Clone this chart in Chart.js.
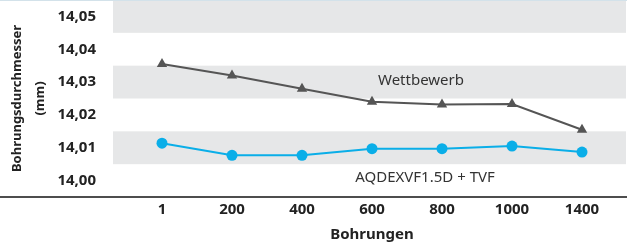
<!DOCTYPE html>
<html lang="de">
<head>
    <meta charset="UTF-8">
    <title>Bohrungsdurchmesser</title>
    <script src="https://cdn.jsdelivr.net/npm/chart.js"></script>
    <style>
        html, body { margin: 0; padding: 0; background: #ffffff; }
        #wrap { width: 627px; height: 243px; position: relative; }
    </style>
</head>
<body>
    <div id="wrap"><canvas id="chart"></canvas></div>
    <script>
        const bohrungen = ["1", "200", "400", "600", "800", "1000", "1400"];
        const wettbewerb = [14.0355, 14.032, 14.028, 14.024, 14.0232, 14.0233, 14.0155];
        const aqdex = [14.0114, 14.0077, 14.0077, 14.0097, 14.0097, 14.0105, 14.0087];
        const yTicks = [14.00, 14.01, 14.02, 14.03, 14.04, 14.05];
        const grauBaender = [14.01, 14.03, 14.05];

        const FONT = "'Noto Sans', sans-serif";

        // graue Streifen, Rahmenlinien und Beschriftungen der Linien
        const hintergrund = {
            id: "hintergrund",
            beforeDatasetsDraw(chart) {
                const ctx = chart.ctx;
                const y = chart.scales.y;
                const x = chart.scales.x;
                ctx.save();
                ctx.fillStyle = "#e6e7e8";
                grauBaender.forEach(function (v) {
                    const top = Math.max(y.getPixelForValue(v + 0.005), 1);
                    const bot = y.getPixelForValue(v - 0.005);
                    ctx.fillRect(113, top, chart.width - 114, bot - top);
                });
                ctx.fillStyle = "#d3e2ea";
                ctx.fillRect(0, 0, chart.width, 1);
                ctx.fillStyle = "#4d4d4d";
                ctx.fillRect(0, y.bottom - 1, chart.width, 2);

                ctx.fillStyle = "#333333";
                ctx.font = "15px " + FONT;
                ctx.textAlign = "center";
                ctx.textBaseline = "middle";
                const mitte = (x.getPixelForValue(3) + x.getPixelForValue(4)) / 2;
                ctx.fillText("Wettbewerb", mitte + 14, y.getPixelForValue(14.0303));
                ctx.fillText("AQDEXVF1.5D + TVF", mitte + 18, y.getPixelForValue(14.0008));
                ctx.restore();
            }
        };

        new Chart(document.getElementById("chart"), {
            type: "line",
            data: {
                labels: bohrungen,
                datasets: [
                    {
                        label: "Wettbewerb",
                        data: wettbewerb,
                        borderColor: "#555555",
                        backgroundColor: "#555555",
                        borderWidth: 2,
                        pointStyle: "triangle",
                        pointRadius: 6,
                        pointBorderWidth: 0,
                        tension: 0
                    },
                    {
                        label: "AQDEXVF1.5D + TVF",
                        data: aqdex,
                        borderColor: "#0aaee8",
                        backgroundColor: "#0aaee8",
                        borderWidth: 2,
                        pointStyle: "circle",
                        pointRadius: 5.5,
                        pointBorderWidth: 0,
                        tension: 0
                    }
                ]
            },
            options: {
                responsive: true,
                maintainAspectRatio: false,
                animation: false,
                layout: { autoPadding: false, padding: { left: 0, right: 10, top: 0, bottom: 0 } },
                plugins: { legend: { display: false }, tooltip: { enabled: false } },
                scales: {
                    x: {
                        offset: true,
                        grid: { display: false, drawTicks: false },
                        border: { display: false },
                        ticks: { color: "#222222", padding: 4, font: { family: FONT, size: 15, weight: "bold" } },
                        title: {
                            display: true,
                            text: "Bohrungen",
                            color: "#222222",
                            padding: { top: 0, bottom: -1 },
                            font: { family: FONT, size: 15, weight: "bold", lineHeight: 1.2 }
                        },
                        afterFit(scale) { scale.height = 46; scale.paddingLeft = 0; scale.paddingRight = 0; }
                    },
                    y: {
                        min: 13.995,
                        max: 14.055,
                        grid: { display: false, drawTicks: false },
                        border: { display: false },
                        afterBuildTicks(scale) { scale.ticks = yTicks.map(function (v) { return { value: v }; }); },
                        ticks: {
                            color: "#222222",
                            padding: 31,
                            font: { family: FONT, size: 15, weight: "bold" },
                            callback: function (v) { return v.toFixed(2).replace(".", ","); }
                        },
                        title: {
                            display: true,
                            text: ["Bohrungsdurchmesser", "(mm)"],
                            color: "#222222",
                            padding: { top: 6, bottom: 0 },
                            font: { family: FONT, size: 13, weight: "bold", lineHeight: 1.77 }
                        },
                        afterFit(scale) { scale.width = 127; scale.paddingTop = 0; scale.paddingBottom = 0; }
                    }
                }
            },
            plugins: [hintergrund]
        });
    </script>
</body>
</html>
